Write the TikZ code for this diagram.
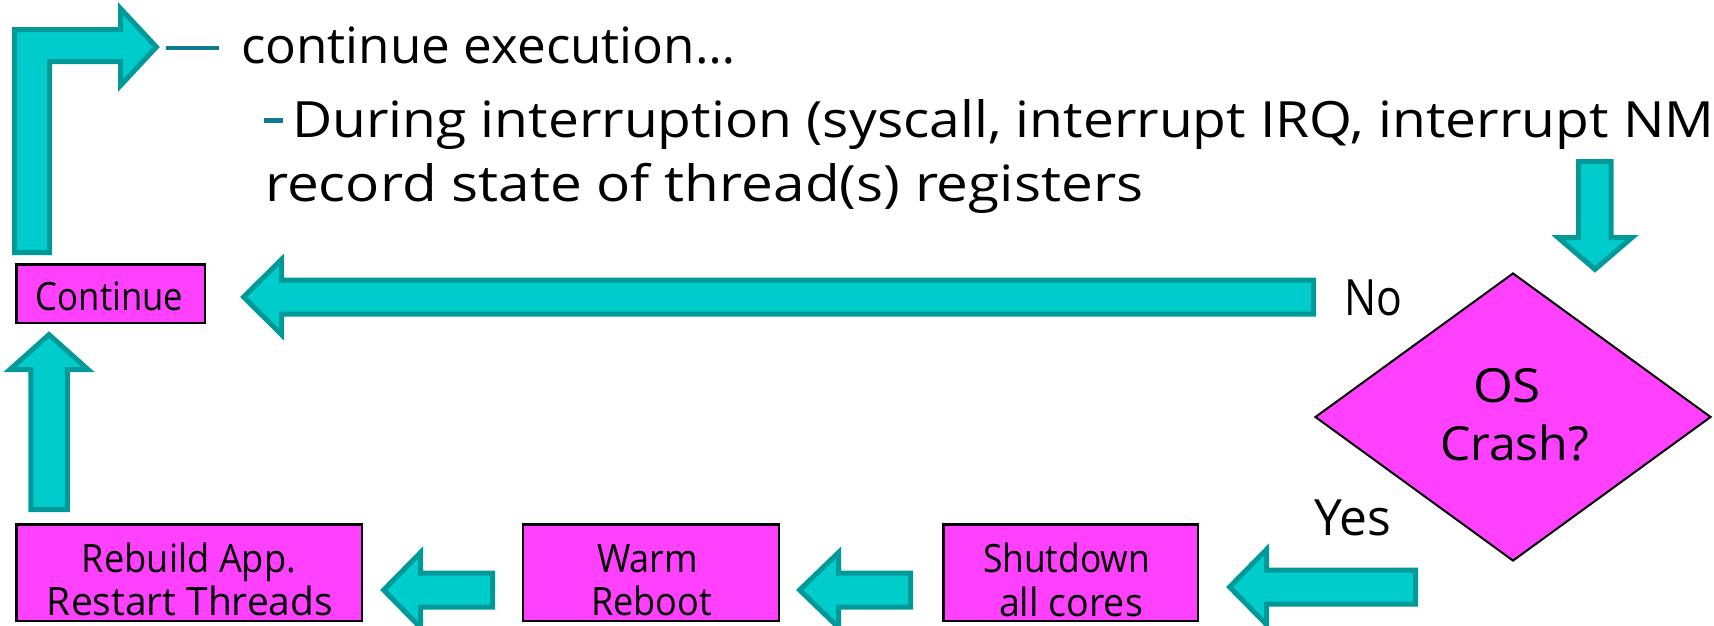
\documentclass[tikz,border=0pt]{standalone}
\usepackage{fontspec}
\setmainfont{Open Sans}
\usepackage{graphicx}
\usetikzlibrary{shapes.geometric}
\definecolor{arrowfill}{RGB}{0,204,204}
\definecolor{arrowedge}{RGB}{0,153,153}
\definecolor{boxfill}{RGB}{255,64,255}
\definecolor{bulletcol}{RGB}{16,122,150}
\newcommand\fw[2]{\resizebox{#1pt}{\height}{#2}}
% left-pointing block arrow: tip x, centre y, head-base x, tail x, shaft half, head half
\newcommand\leftblock[6]{\filldraw[blockarrow] (#1,#2) -- (#3,#2-#6) -- (#3,#2-#5) -- (#4,#2-#5) -- (#4,#2+#5) -- (#3,#2+#5) -- (#3,#2+#6) -- cycle;}
\begin{document}
\begin{tikzpicture}[x=1pt,y=-1pt,
  blockarrow/.style={fill=arrowfill,draw=arrowedge,line width=5pt,line join=miter},
  stepbox/.style={rectangle,draw=black,line width=2.5pt,fill=boxfill,inner sep=0pt},
  boxtxt/.style={inner sep=0pt,anchor=base,font=\fontsize{39}{47}\selectfont},
  bigtxt/.style={inner sep=0pt,anchor=base west,font=\fontsize{50}{60}\selectfont},
  bullet/.style={inner sep=0pt,text=bulletcol},
]
\useasboundingbox (0,0) rectangle (1714,625);

% boxes and decision
\node[stepbox, minimum width=188.5pt, minimum height=58.5pt] (continue) at (110.5,293.5) {};
\node[stepbox, minimum width=345.5pt, minimum height=96.5pt] (rebuild) at (189,572.5) {};
\node[stepbox, minimum width=256pt, minimum height=96.5pt] (warm) at (651,572.5) {};
\node[stepbox, minimum width=254.5pt, minimum height=96.5pt] (shutdown) at (1070.5,572.5) {};
\node[diamond, draw=black, line width=2pt, fill=boxfill, inner sep=0pt,
      minimum width=396pt, minimum height=288pt] (crash) at (1513,417) {};

% texts in boxes
\node[boxtxt] (continue-t) at (109.5,310) {\fw{147}{Continue}};
\node[boxtxt] (rebuild-a) at (189,572) {\fw{214}{Rebuild App.}};
\node[boxtxt] (rebuild-b) at (190,615) {\fw{286}{Restart Threads}};
\node[boxtxt] (warm-a) at (647.5,572) {\fw{101}{Warm}};
\node[boxtxt] (warm-b) at (651.5,615) {\fw{121}{Reboot}};
\node[boxtxt] (shutdown-a) at (1066.5,572) {\fw{167}{Shutdown}};
\node[boxtxt] (shutdown-b) at (1071,616) {\fw{144}{all cores}};
\node[boxtxt, font=\fontsize{47}{56}\selectfont] (crash-a) at (1507,402) {\fw{68}{OS}};
\node[boxtxt, font=\fontsize{47}{56}\selectfont] (crash-b) at (1514.5,460) {\fw{149}{Crash?}};

% labels
\node[bigtxt] (no) at (1344,315) {\fw{58}{No}};
\node[bigtxt] (yes) at (1314,535) {\fw{77}{Yes}};

% slide text
\node[bullet] (bullet1) at (192.5,48) {\rule{53pt}{4pt}};
\node[bigtxt] (line1) at (241,63) {\fw{494}{continue execution…}};
\node[bullet] (bullet2) at (273,120) {\rule{19pt}{5pt}};
\node[bigtxt] (line2) at (292,137) {\fw{1422}{During interruption (syscall, interrupt IRQ, interrupt NM}};
\node[bigtxt] (line3) at (265,201) {\fw{878}{record state of thread(s) registers}};

% block arrows
% L-shaped arrow from Continue up to the text
\filldraw[blockarrow] (14.5,252.5) -- (14.5,29.5) -- (120.5,29.5) -- (120.5,8.5)
  -- (156.4,47) -- (120.5,85.5) -- (120.5,61.5) -- (49.5,61.5) -- (49.5,252.5) -- cycle;
% down into decision
\filldraw[blockarrow] (1595,269.4) -- (1632,237.5) -- (1611,237.5) -- (1611,161.5)
  -- (1578.5,161.5) -- (1578.5,237.5) -- (1558,237.5) -- cycle;
% No: decision -> Continue
\leftblock{243.6}{297}{281.5}{1313.5}{17}{37.5}
% Yes: decision -> Shutdown
\leftblock{1229.6}{587}{1266.5}{1415.5}{17}{37.5}
% Shutdown -> Warm
\leftblock{799.6}{590}{838.5}{910.5}{17}{37.5}
% Warm -> Rebuild
\leftblock{383.6}{590}{420.5}{492.5}{17}{37.5}
% Rebuild -> Continue
\filldraw[blockarrow] (49,334.6) -- (88,369.5) -- (67.25,369.5) -- (67.25,509.5)
  -- (30.75,509.5) -- (30.75,369.5) -- (10,369.5) -- cycle;
\end{tikzpicture}
\end{document}
